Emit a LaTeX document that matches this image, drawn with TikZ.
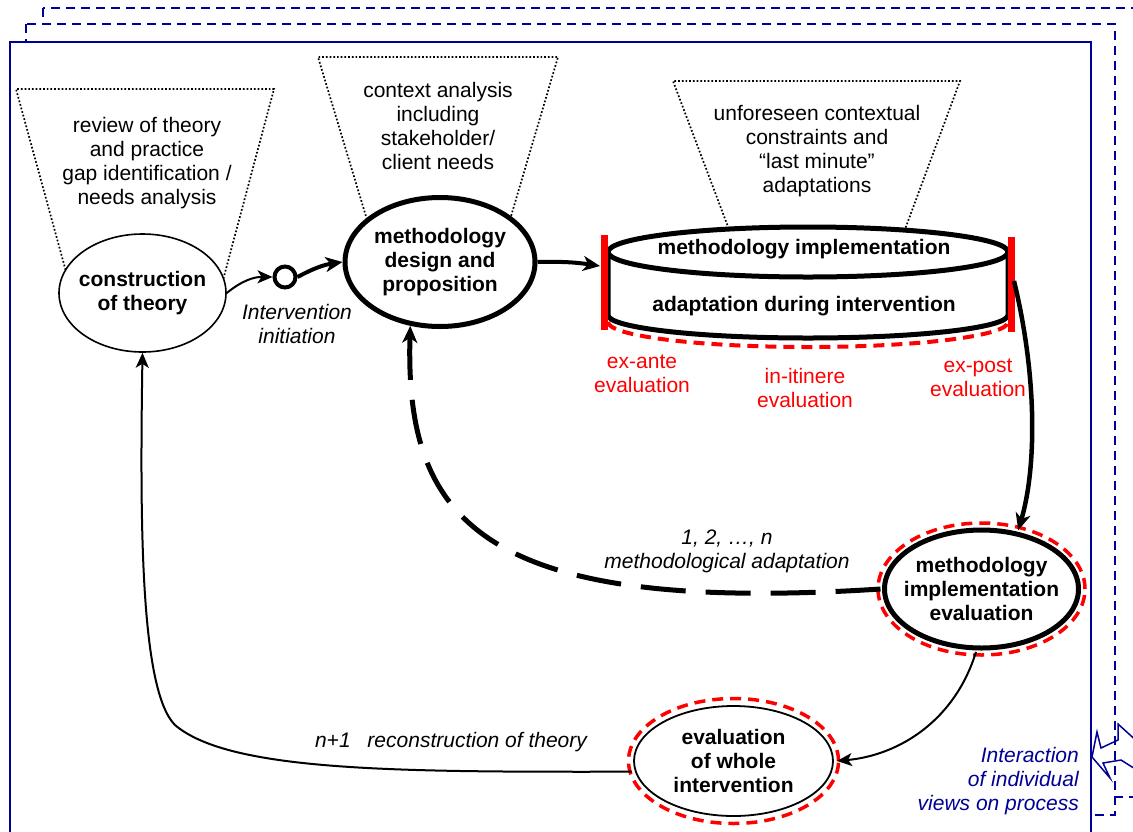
\documentclass[tikz,border=0pt]{standalone}
\usepackage{fontspec}
\setmainfont{Liberation Sans}
\usetikzlibrary{arrows.meta, shapes.geometric}

\definecolor{frameblue}{RGB}{0,0,150}
\definecolor{evalred}{RGB}{255,0,0}
\newcommand{\figfont}{\fontsize{21}{24}\selectfont}

\tikzset{
  proc/.style={ellipse, draw, fill=white, align=center, inner sep=0pt, inner xsep=-12pt, font=\figfont\bfseries},
  note/.style={align=center, font=\figfont},
  remark/.style={align=center, font=\figfont\itshape},
  evalnote/.style={align=center, font=\figfont, text=evalred},
  funnel/.style={dotted, line width=1.7},
  redring/.style={evalred, line width=3.5, dash pattern=on 11pt off 7pt},
  frame/.style={frameblue, line width=1.8, fill=white},
  bigtip/.style={-{Stealth[length=17pt, width=15pt, inset=5pt]}},
}

\begin{document}
\begin{tikzpicture}[x=1pt, y=1pt, >={Stealth[length=15pt, width=13pt, inset=4pt]}]
    \useasboundingbox (0, 0) rectangle (1133, -831);
    \clip (0, 0) rectangle (1133, -831);
    %% views frames
    \draw[frame, dash pattern=on 9pt off 6pt] (43, -8) rectangle (1160, -797);
    \draw[frame, dash pattern=on 9pt off 6pt] (26, -24) rectangle (1115, -815);
    \draw[frame] (10, -42) rectangle (1091, -850);
    \draw[frameblue, line width=1.5] (1140, -744) -- (1118, -724) -- (1118, -740) -- (1101, -748) -- (1097, -732) -- (1092, -757) -- (1110, -778) -- (1103, -763) -- (1121, -760) -- (1140, -772);
    \node[font=\figfont\itshape, text=frameblue, align=right, anchor=east, inner sep=0pt] (views) at (1079, -781) {Interaction\\of individual\\views on process};
    %% funnels
    \draw[funnel] (67.5, -277) -- (16, -89) -- (274, -89) -- (222.5, -282);
    \draw[funnel] (368, -223) -- (318, -57) -- (558, -57) -- (509, -223);
    \draw[funnel] (730, -232) -- (673, -81) -- (960, -81) -- (904, -232);
    \node[note] (theorynote) at (147, -163) {review of theory\\and practice\\gap identification /\\needs analysis};
    \node[note] (contextnote) at (438, -126) {context analysis\\including\\stakeholder/\\client needs};
    \node[note] (constraintnote) at (817, -151) {unforeseen contextual\\constraints and\\“last minute”\\adaptations};
    %% implementation cylinder
    \fill[white] (608, -252) -- (608, -315) arc [start angle=180, end angle=360, x radius=200, y radius=23] -- (1008, -252) -- cycle;
    \draw[line width=5] (608, -252) -- (608, -315) arc [start angle=180, end angle=360, x radius=200, y radius=23] -- (1008, -252);
    \draw[line width=5, fill=white] (808, -252) ellipse [x radius=200, y radius=25];
    \draw[redring, line width=4] (608, -322) arc [start angle=180, end angle=360, x radius=200, y radius=25];
    \draw[evalred, line width=7] (604, -235) -- (604, -330);
    \draw[evalred, line width=7] (1011, -237) -- (1011, -332);
    \node[font=\figfont\bfseries] (impltop) at (804, -249) {methodology implementation};
    \node[font=\figfont\bfseries] (impladapt) at (804, -306) {adaptation during intervention};
    \coordinate (exante) at (600, -266);
    \coordinate (expost) at (1014, -281);
    \node[evalnote] (antenote) at (642, -374) {ex-ante\\evaluation};
    \node[evalnote] (itinerenote) at (805, -388) {in-itinere\\evaluation};
    \node[evalnote] (postnote) at (978, -378) {ex-post\\evaluation};
    %% process ellipses
    \node[proc, line width=1.6, minimum width=167, minimum height=118] (cth) at (142.5, -293) {construction\\of theory};
    \node[circle, draw, fill=white, line width=4, minimum size=21, inner sep=0pt] (init) at (285, -277) {};
    \node[proc, line width=5, minimum width=190, minimum height=129] (design) at (440, -262) {methodology\\design and\\proposition};
    \node[proc, line width=5, minimum width=194, minimum height=118, outer sep=4] (evalimpl) at (981.5, -589) {methodology\\implementation\\evaluation};
    \draw[redring] (evalimpl.center) ellipse [x radius=103.5, y radius=66];
    \node[proc, line width=1.8, minimum width=199, minimum height=110, outer sep=4] (whole) at (733.5, -761) {evaluation\\of whole\\intervention};
    \draw[redring] (whole.center) ellipse [x radius=105, y radius=62.5];
    %% connectors
    \draw[line width=2, ->] (cth.east) to[bend left=20] (init.west);
    \draw[line width=4, bigtip] (init.east) to[bend left=10] (design.west);
    \draw[line width=4, bigtip] (design.east) to[bend left=5] (exante);
    \draw[line width=4.5, bigtip] (expost) .. controls (1038, -380) and (1036, -470) .. (evalimpl.58);
    \draw[line width=5, bigtip, dash pattern=on 45pt off 20pt] (evalimpl.west) .. controls (480, -615) and (405, -520) .. (design.245);
    \draw[line width=2, ->] (evalimpl.265) .. controls (955, -720) and (900, -755) .. (whole.east);
    \draw[line width=2, ->] (whole.186) .. controls (400, -772) and (230, -772) .. (175, -725) .. controls (140, -690) and (140, -520) .. (cth.south);
    \node[remark] (initlabel) at (297, -324) {Intervention\\initiation};
    \node[remark] (adaptlabel) at (727, -551) {1, 2, …, n\\methodological adaptation};
    \node[remark] (reconlabel) at (451, -742) {n+1\hspace{0.8em}reconstruction of theory};
\end{tikzpicture}
\end{document}
